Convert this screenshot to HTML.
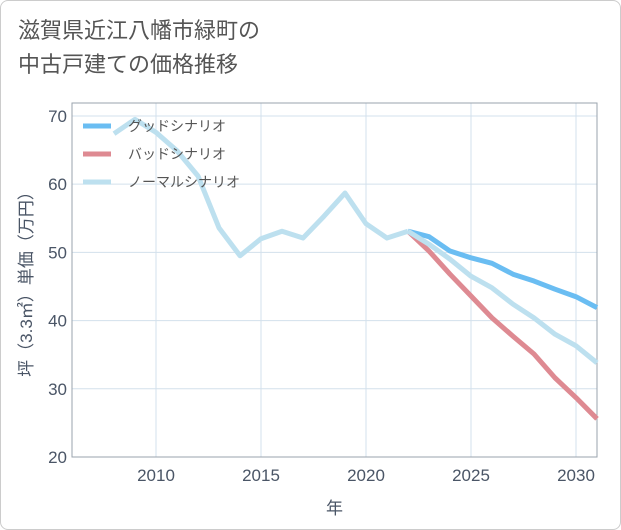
<!DOCTYPE html>
<html><head><meta charset="utf-8"><style>
body{margin:0;background:#fff;font-family:"Liberation Sans","Noto Sans CJK JP",sans-serif;}
#card{position:absolute;left:0;top:0;width:619px;height:528px;border:1px solid #ccc;border-radius:8px;}
#title{position:absolute;left:18px;top:14px;font-size:22px;line-height:34px;color:#555;}
</style></head><body>
<div id="card"></div>
<div id="title">滋賀県近江八幡市緑町の<br>中古戸建ての価格推移</div>
<svg id="chart" width="621" height="530" style="position:absolute;left:0;top:0"></svg>
<script>
const years=[2008,2009,2010,2011,2012,2013,2014,2015,2016,2017,2018,2019,2020,2021,2022];
const history=[67.4,69.5,67.6,64.9,61.2,53.6,49.5,52,53.1,52.1,55.3,58.7,54.2,52.1,53.1];
const futureYears=[2022,2023,2024,2025,2026,2027,2028,2029,2030,2031];
const good=[53.1,52.3,50.2,49.2,48.4,46.8,45.8,44.6,43.5,41.9];
const bad=[53.1,50.2,46.8,43.6,40.4,37.7,35.1,31.6,28.7,25.6];
const normal=[53.1,51.2,49,46.5,44.8,42.4,40.4,38,36.3,33.8];
const xTicks=[2010,2015,2020,2025,2030];
const yTicks=[20,30,40,50,60,70];
const legendLabels=['グッドシナリオ','バッドシナリオ','ノーマルシナリオ'];
const NS='http://www.w3.org/2000/svg';
const svg=document.getElementById('chart');
const L=72,R=597,T=103,B=457,X0=2006,X1=2031,Y0=20,Y1=71.9;
const xs=v=>L+(v-X0)/(X1-X0)*(R-L);
const ys=v=>B-(v-Y0)/(Y1-Y0)*(B-T);
function mk(t,a){const e=document.createElementNS(NS,t);for(const k in a)e.setAttribute(k,a[k]);svg.appendChild(e);return e;}
xTicks.forEach(t=>{
 const g=mk('line',{x1:xs(t),x2:xs(t),y1:T,y2:B,stroke:'#d3e0ec','stroke-width':1});
 
 
 const tx=mk('text',{x:xs(t),y:B+24,'text-anchor':'middle','font-size':17,fill:'#4a5566'});
 tx.textContent=t;
 
 
});
yTicks.forEach(t=>{
 const g=mk('line',{x1:L,x2:R,y1:ys(t),y2:ys(t),stroke:'#d3e0ec','stroke-width':1});
 
 
 const tx=mk('text',{x:L-5,y:ys(t)+6,'text-anchor':'end','font-size':17,fill:'#4a5566'});
 tx.textContent=t;
 
 
});
const fr=mk('rect',{x:L,y:T,width:R-L,height:B-T,fill:'none',stroke:'#9aa3ad','stroke-width':1});


function series(xv,yv,color,name){
 const p=mk('polyline',{points:xv.map((x,i)=>xs(x)+','+ys(yv[i])).join(' '),fill:'none',stroke:color,'stroke-width':5,'stroke-linejoin':'round'});
 
 
}
series(futureYears,good,'#6abdf2','good-scenario-line');
series(futureYears,bad,'#de8a92','bad-scenario-line');
series(futureYears,normal,'#bde0ef','normal-scenario-line');
series(years,history,'#bde0ef','historical-line');
const lc=['#6abdf2','#de8a92','#bde0ef'];
legendLabels.forEach((lab,i)=>{
 const y=126+i*28;
 const ln=mk('line',{x1:83,x2:111,y1:y,y2:y,stroke:lc[i],'stroke-width':5});
 
 
 const tx=mk('text',{x:128,y:y+5,'font-size':14,fill:'#555'});
 tx.textContent=lab;
 
 
});
const xt=mk('text',{x:(L+R)/2,y:514,'text-anchor':'middle','font-size':17,fill:'#4a5566'});
xt.textContent='年';


const yt=mk('text',{x:0,y:0,'text-anchor':'middle','font-size':17,fill:'#4a5566',transform:'translate(32,'+((T+B)/2)+') rotate(-90)'});
yt.textContent='坪（3.3㎡）単価（万円）';


</script>
</body></html>
